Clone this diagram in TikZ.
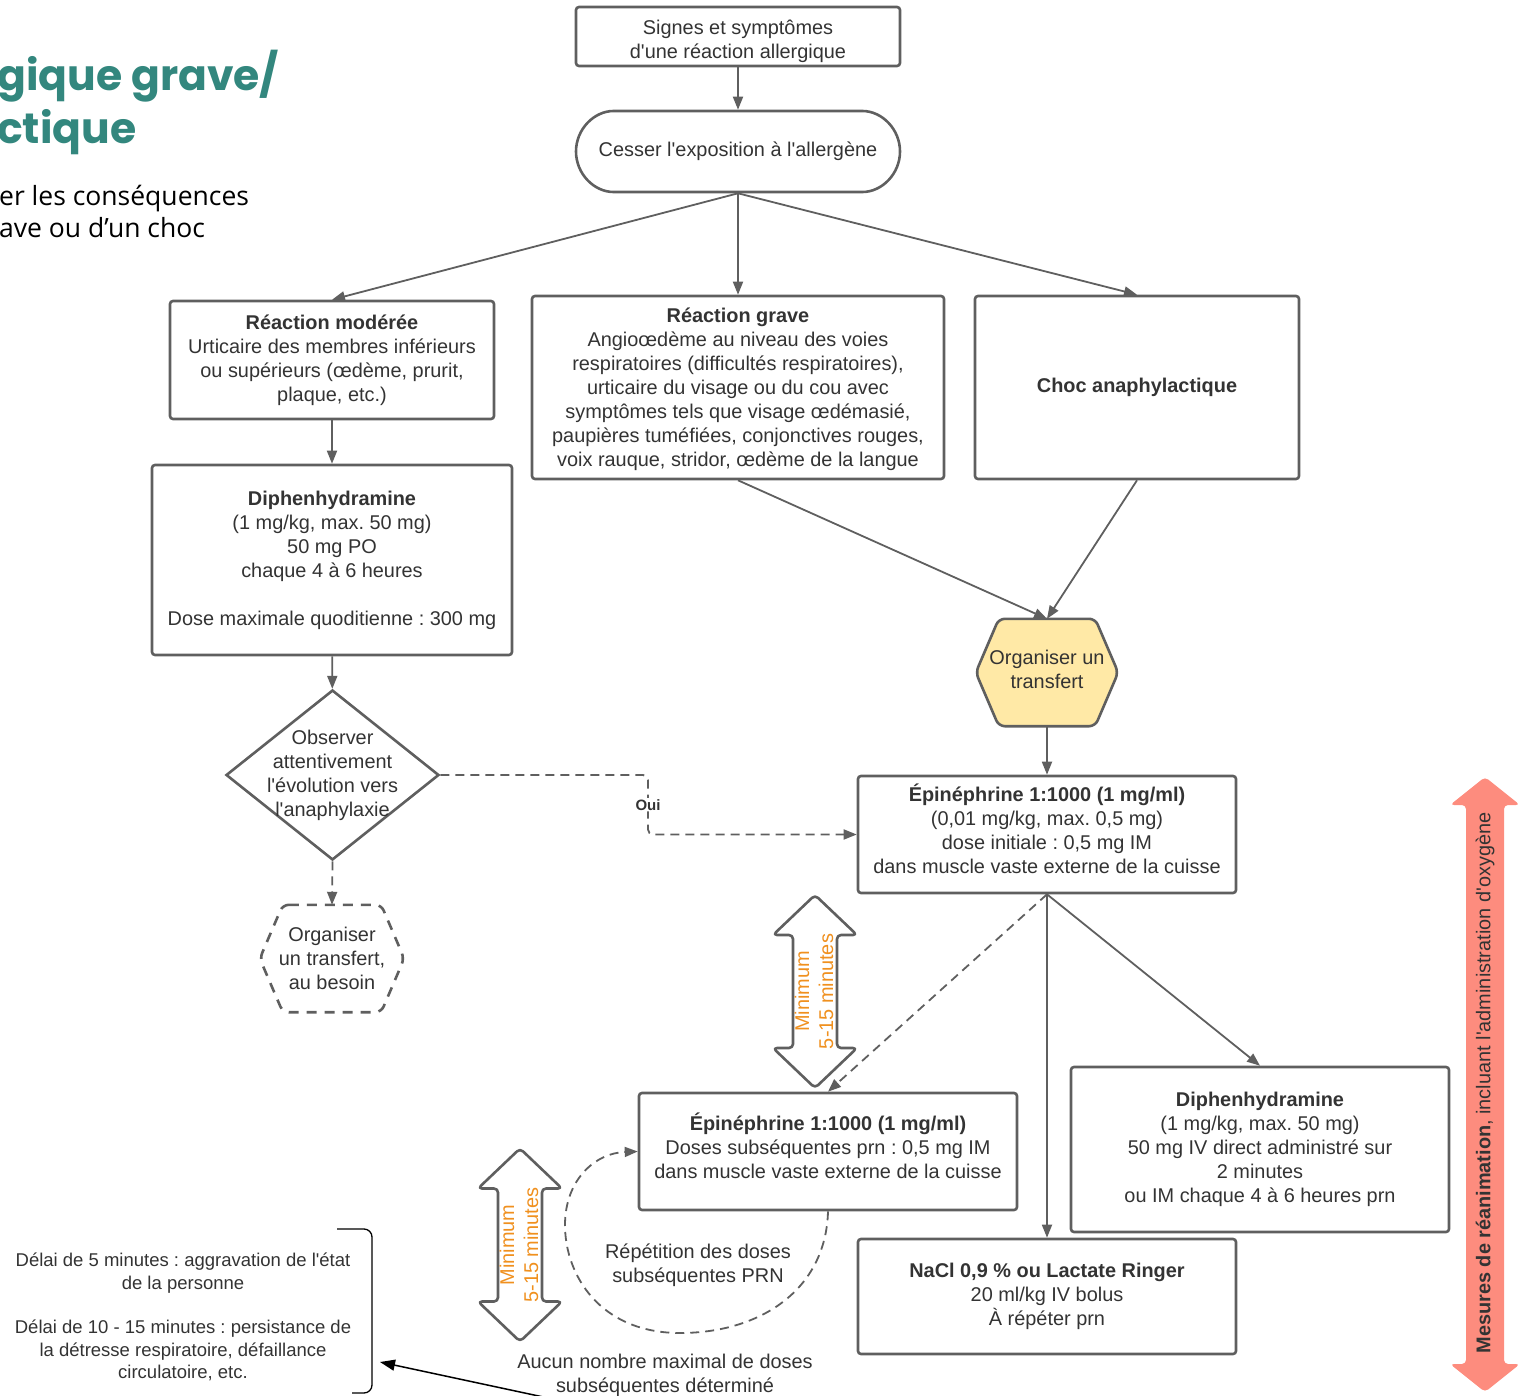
\documentclass[tikz,border=0pt]{standalone}
\usepackage{fontspec}
\setmainfont{Liberation Sans}[Ligatures=TeXOff]
\newfontfamily\titlefont{Poppins}
\newfontfamily\subtitlefont{Open Sans}[Ligatures=TeXOff]
\usetikzlibrary{arrows.meta,shapes.geometric,shapes.misc,calc}
\frenchspacing

\definecolor{linegray}{HTML}{5F5F5F}
\definecolor{textgray}{HTML}{333333}
\definecolor{teal}{HTML}{33877E}
\definecolor{hexyellow}{HTML}{FFE9A6}
\definecolor{waitorange}{HTML}{F0901E}
\definecolor{salmon}{HTML}{FD8C7E}

\newcommand\bodysize{\fontsize{19.9}{24}\selectfont}

\tikzset{
  box/.style={draw=linegray, line width=2.6pt, rounded corners=3pt, align=center,
    text=textgray, font=\bodysize, inner sep=0pt},
  txt/.style={align=center, text=textgray, font=\bodysize, inner sep=0pt},
  flow/.style={draw=linegray, line width=1.8pt, -{Triangle[length=13pt,width=10pt]}},
  flowdash/.style={flow, dash pattern=on 9pt off 6pt},
  waitline/.style={draw=linegray, line width=2.6pt, fill=white, rounded corners=4pt, line join=round},
  waittext/.style={align=center, text=waitorange, font=\bodysize, rotate=90, inner sep=0pt},
  waitarrow/.pic={
    \draw[waitline] (0,-96.5) -- (42,-56.5) -- (22,-56.5) -- (22,56.5) -- (42,56.5)
      -- (0,96.5) -- (-42,56.5) -- (-22,56.5) -- (-22,-56.5) -- (-42,-56.5) -- cycle;
    \node[waittext] at (-1,0) {Minimum\\5-15 minutes};
  }
}

\begin{document}
\begin{tikzpicture}[x=1pt, y=-1pt]
\useasboundingbox (0,0) rectangle (1524,1396);

% title, cut off on the left
\node[anchor=base west, inner sep=0, text=teal, font=\titlefont\bfseries\fontsize{42.5}{53}\selectfont] (title1) at (-3,91) {gique grave/};
\node[anchor=base west, inner sep=0, text=teal, font=\titlefont\bfseries\fontsize{42.5}{53}\selectfont] (title2) at (-3,144) {ctique};
\node[anchor=base west, inner sep=0, font=\subtitlefont\fontsize{26.5}{32}\selectfont] (sub1) at (-1,206) {er les conséquences};
\node[anchor=base west, inner sep=0, font=\subtitlefont\fontsize{26.5}{32}\selectfont] (sub2) at (-1,238) {ave ou d’un choc};

% boxes
\node[box, minimum width=324, minimum height=59] (signes) at (738,36.5) {};
\node[txt] at ([yshift=-5pt]signes.center) {Signes et symptômes\\d'une réaction allergique};
\node[box, rounded rectangle, minimum width=324, minimum height=81] (cesser) at (738,151.5) {Cesser l'exposition à l'allergène};
\node[box, minimum width=324, minimum height=118] (moderee) at (332,360) {\textbf{Réaction modérée}\\Urticaire des membres inférieurs\\ou supérieurs (œdème, prurit,\\plaque, etc.)};
\node[box, minimum width=412, minimum height=183, text depth=0pt] (grave) at (738,387.5) {\textbf{Réaction grave}\\Angioœdème au niveau des voies\\respiratoires (difficultés respiratoires),\\urticaire du visage ou du cou avec\\symptômes tels que visage œdémasié,\\paupières tuméfiées, conjonctives rouges,\\voix rauque, stridor, œdème de la langue};
\node[box, minimum width=324, minimum height=183] (choc) at (1137,387.5) {\textbf{Choc anaphylactique}};
\node[box, minimum width=360, minimum height=190] (diph) at (332,560) {\textbf{Diphenhydramine}\\(1 mg/kg, max. 50 mg)\\50 mg PO\\chaque 4 à 6 heures\\[24pt]Dose maximale quoditienne : 300 mg};

% decision
\node[diamond, draw=linegray, line width=2.6pt, minimum width=213, minimum height=170, inner sep=0] (observer) at (332.5,775) {};
\node[txt] at (observer) {Observer\\attentivement\\l'évolution vers\\l'anaphylaxie};

% dashed hexagon
\node[minimum width=144, minimum height=107, inner sep=0] (transfertb) at (332,958.5) {};
\draw[draw=linegray, line width=2.6pt, dash pattern=on 10pt off 8pt, rounded corners=6pt]
  ([xshift=23]transfertb.north west) -- ([xshift=-23]transfertb.north east) -- (transfertb.east)
  -- ([xshift=-23]transfertb.south east) -- ([xshift=23]transfertb.south west) -- (transfertb.west) -- cycle;
\node[txt] at (transfertb) {Organiser\\un transfert,\\au besoin};

% yellow hexagon
\node[minimum width=142, minimum height=107, inner sep=0] (transfert) at (1047,672.5) {};
\filldraw[draw=linegray, fill=hexyellow, line width=2.6pt, rounded corners=6pt]
  ([xshift=23]transfert.north west) -- ([xshift=-23]transfert.north east) -- (transfert.east)
  -- ([xshift=-23]transfert.south east) -- ([xshift=23]transfert.south west) -- (transfert.west) -- cycle;
\node[txt] at ([yshift=3pt]transfert.center) {Organiser un\\transfert};

\node[box, minimum width=378, minimum height=117, text depth=12pt] (epi) at (1047,834.5) {\textbf{Épinéphrine 1:1000 (1 mg/ml)}\\(0,01 mg/kg, max. 0,5 mg)\\dose initiale : 0,5 mg IM\\dans muscle vaste externe de la cuisse};
\node[box, minimum width=378, minimum height=117, text depth=12pt] (epirep) at (828,1151.5) {\textbf{Épinéphrine 1:1000 (1 mg/ml)}\\Doses subséquentes prn : 0,5 mg IM\\dans muscle vaste externe de la cuisse};
\node[box, minimum width=378, minimum height=165] (diphiv) at (1260,1149.5) {\textbf{Diphenhydramine}\\(1 mg/kg, max. 50 mg)\\50 mg IV direct administré sur\\2 minutes\\ou IM chaque 4 à 6 heures prn};
\node[box, minimum width=378, minimum height=115] (nacl) at (1047,1296.5) {\textbf{NaCl 0,9 \% ou Lactate Ringer}\\20 ml/kg IV bolus\\À répéter prn};

% connectors
\draw[flow] (signes) -- (cesser);
\draw[flow] (cesser.south) -- (moderee.north);
\draw[flow] (cesser.south) -- (grave.north);
\draw[flow] (cesser.south) -- (choc.north);
\draw[flow] (moderee) -- (diph);
\draw[flow] (diph) -- (observer);
\draw[flowdash] (observer.south) -- (transfertb.north);
\draw[flowdash, rounded corners=5pt] (observer.east) -- (648,775) |- node[pos=0.25, fill=white, inner sep=1pt, text=textgray, font=\bfseries\fontsize{15}{18}\selectfont] {Oui} (epi.west);
\draw[flow] (grave.south) -- (transfert.north);
\draw[flow] (choc.south) -- (transfert.north);
\draw[flow] (transfert) -- (epi);
\draw[flowdash] (epi.south) -- (epirep.north);
\draw[flow] (epi.south) -- (nacl.north);
\draw[flow] (epi.south) -- (diphiv.north);

% repeated doses loop
\draw[flowdash] (epirep.south) .. controls (826,1290) and (760,1333) .. (680,1333)
  .. controls (600,1333) and (565,1275) .. (565,1225)
  .. controls (565,1180) and (595,1153) .. (epirep.west);
\node[txt] (repetition) at (698,1265) {Répétition des doses\\subséquentes PRN};

% waiting times
\pic at (815,991.5) {waitarrow};
\pic at (520,1245) {waitarrow};

\node[txt] (aucun) at (665,1375) {Aucun nombre maximal de doses\\subséquentes déterminé};

% delays
\node[txt, font=\fontsize{18.5}{22.4}\selectfont] (delais) at (183,1317) {Délai de 5 minutes : aggravation de l'état\\de la personne\\[22.4pt]Délai de 10 - 15 minutes : persistance de\\la détresse respiratoire, défaillance\\circulatoire, etc.};
\draw[black, line width=1.3pt, rounded corners=8pt] (337,1229) -- (372,1229) -- (372,1393) -- (352,1393);
\coordinate (bracket) at (380,1362);
\coordinate (aucunend) at (548,1398);
\draw[black, line width=1.5pt, -{Triangle[length=15pt,width=11pt]}] (aucunend) -- (bracket);

% resuscitation
\fill[salmon, rounded corners=4pt] (1485,777) -- (1520,805) -- (1504,805) -- (1504,1364) -- (1520,1364)
  -- (1485,1392) -- (1450,1364) -- (1466,1364) -- (1466,805) -- (1450,805) -- cycle;
\node[txt, rotate=90] (reanimation) at (1485,1083) {\textbf{Mesures de réanimation}, incluant l'administration d'oxygène};
\end{tikzpicture}
\end{document}
